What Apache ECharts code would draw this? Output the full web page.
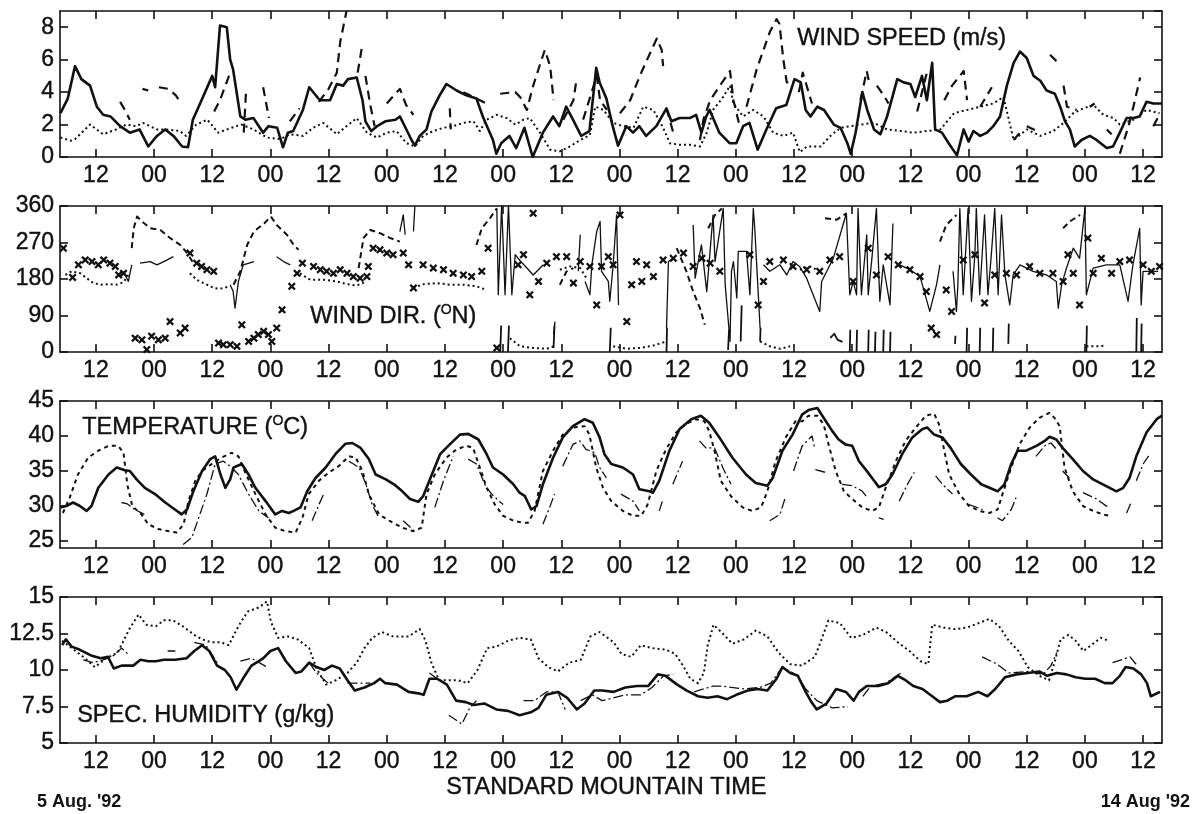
<!DOCTYPE html>
<html>
<head>
<meta charset="utf-8">
<script src="https://cdn.jsdelivr.net/npm/echarts@6/dist/echarts.min.js"></script>
<style>
html, body { margin: 0; background: #fff; }
#main { width: 1203px; height: 814px; }
</style>
</head>
<body>
<div id="main"></div>
<script>
// hours since 5 Aug 1992 00:00 MST
var tickHours = [12, 24, 36, 48, 60, 72, 84, 96, 108, 120, 132, 144, 156, 168, 180, 192, 204, 216, 228];
var xMin = 4.6, xMax = 231.9;

// ---- wind speed (m/s)
var speedSolid = [[4.7,2.7],[6.2,3.6],[7.7,5.6],[9,4.8],[10.8,4.4],[12.2,3.1],[13.5,2.6],[15,2.5],[17,1.9],[19,1.5],[21,1.7],[22.8,0.65],[24.6,1.3],[26.3,1.7],[28,1.3],[29.8,0.65],[31,0.6],[32,2.3],[33.5,3.3],[36,5.0],[36.6,4.3],[37.6,8.1],[39,8.0],[39.7,6.0],[40.3,5.4],[41.8,2.5],[42.8,2.3],[44.5,2.4],[46.5,1.5],[47.6,1.9],[49.4,1.8],[50.6,0.6],[51.6,1.5],[52.7,1.6],[54.7,2.9],[56,4.3],[58.2,3.5],[60.3,3.5],[61.7,4.5],[63,4.4],[64,4.8],[65.8,4.9],[67,3.5],[67.6,2.2],[68.8,1.6],[70,1.9],[71.7,2.2],[73.8,2.3],
  [74.7,2.5],[76.2,1.6],[77.1,1.05],[77.8,0.7],[78.8,1.3],[80.2,1.7],[81.2,2.8],[82.9,3.8],[84.3,4.5],[86.4,4.1],[88.4,3.8],[90.5,3.6],[91.8,2.5],[93.9,1.05],[94.6,0.2],[95.6,0.85],[97.3,1.3],[98.7,0.55],[100.4,1.8],[102.1,0],[104.2,1.5],[106.3,2.5],[107.6,1.9],[109,3.1],[110.4,2.3],[112.1,1.3],[113.8,1.6],[115.2,5.5],[115.9,4.6],[117.3,3.6],[118.6,1.9],[119.7,0.7],[121.4,1.9],[122.8,1.5],[124.1,1.9],[125.5,1.3],[127.6,1.9],[129.7,3.0],[130.7,2.2],[132.4,2.4],[134.5,2.4],[135.8,2.6],[136.9,1.5],[137.9,2.5],[138.6,2.9],[140.6,1.5],[142.7,0.85],[144.1,0.85],[145.5,1.9],[146.8,2.1],[148.5,0.45],[150.3,1.7],[152.3,3.0],[154.4,3.2],[156.1,4.8],
  [157.4,4.6],[158.4,2.9],[159.4,2.5],[160.8,3.1],[162.2,2.9],[164.2,2.0],[165.6,1.8],[167,0.85],[167.7,0.2],[168.7,1.5],[170.1,4.0],[171.1,2.9],[172.5,1.7],[173.8,1.4],[175.2,2.5],[177.3,4.8],[178.6,4.6],[180,4.5],[181,3.7],[182.4,5.0],[183.4,3.5],[184.5,5.8],[185.1,1.7],[186.5,1.5],[187.9,0.85],[189.6,0.1],[191,1.7],[192,0.95],[193,1.6],[194.4,1.3],[195.8,1.5],[197.1,1.9],[198.5,2.5],[199.9,4.4],[201.3,5.8],[202.6,6.5],[204,6.1],[205.4,5.0],[206.8,4.7],[208.1,4.1],[209.8,3.9],[210.9,3.1],[211.9,2.2],[212.9,1.7],[213.9,0.65],[215.3,1.05],[217,1.3],[218.4,1.05],[220.5,0.55],[221.8,0.65],[223.2,1.5],[224.6,2.4],[226,2.4],[227.3,2.5],[228.7,3.4],[230.1,3.3],[231.9,3.3]];
var speedDotted = [[4.7,1.2],[6.8,1.0],[7.7,1.1],[10.8,2.0],[13.5,1.4],[16.2,1.7],[18.3,2.0],[20.3,1.9],[21.7,2.1],[24.6,1.7],[26.5,1.7],[29.3,1.6],[30.6,1.3],[32.7,2.0],[35,2.3],[37.2,1.5],[40,1.8],[42,2.0],[44.5,1.7],[47.3,1.2],[50,1.1],[52,1.4],[54.7,1.3],[56.8,1.8],[58.9,2.1],[61.7,1.4],[63.7,1.9],[65.8,2.4],[67.9,1.5],[70,1.2],[72,1.5],[74,1.6],
  [76.1,0.85],[77.8,0.65],[79.5,1.3],[81.6,1.6],[83.7,1.8],[85.7,1.9],[87.8,2.1],[89.9,2.2],[91.2,1.6],[92.6,2.3],[94.7,2.6],[96.7,2.4],[98.5,2.0],[100.2,2.3],[101.5,2.4],[103.6,1.5],[105.7,0.45],[107.7,0.35],[109.8,0.65],[111.9,1.05],[113.9,1.35],[115,3.1],[116.7,2.9],[118.7,2.1],[120.8,1.9],[122.9,1.8],[124.9,3.1],[127,2.9],[129,1.8],[130.4,0.85],[132.5,0.75],[134.5,0.75],[136.6,0.65],[138,1.5],[139.3,2.9],[141.4,3.7],[142.8,4.4],[143.5,3.3],[145.5,2.5],[147.6,2.9],[149.7,2.5],[151.7,1.5],[153.8,1.3],[155.8,1.5],
  [157.2,0.3],[158.7,0.65],[161.5,0.65],[163.5,1.3],[165.6,1.8],[167.7,1.9],[169.7,2.0],[172.5,2.1],[175.2,1.7],[178,1.6],[180.7,1.5],[183.4,1.6],[186.2,1.7],[189,2.7],[191.7,2.9],[194.4,3.1],[197.1,3.3],[199.2,3.7],[201.3,1.05],[204,1.7],[206.8,1.3],[209.5,1.6],[211.6,2.1],[213.6,2.7],[215.7,3.0],[217.8,3.2],[219.8,2.6],[221.9,2.4],[223.2,2.0],[226,2.3],[228.7,2.9],[231.4,2.7]];
var speedDashed = [[17,3.4],[18,2.9],[19,2.3],null,[21.6,4.2],[22.8,4.1],null,[25,4.3],[27,4.2],[28.5,3.8],[29.6,3.3],null,[36.4,2.8],[37.6,3.5],[39.7,5.2],null,[42.5,1.5],[43,4.2],null,[46.5,4.3],[47.7,2.4],null,[52,2.2],[54,3.0],null,[58,3.4],[60,4.2],[61.7,5.2],[62.4,7.1],[63.7,9],null,[64.2,5.9],null,[66,5.2],[67,7.0],null,[67.6,5.0],[68.6,3.2],[69.5,1.9],null,[72,3.3],[73.5,3.8],
  [74.7,4.2],[76,3.2],[77.5,2.6],null,[85,3.0],[85.2,1.7],null,[87.8,4.0],[90.5,3.6],[92.6,3.3],null,[95.4,3.9],[98.5,4.0],[99.5,3.7],[100.9,2.9],[102.2,4.4],[103.6,5.7],[104.6,6.6],[105.7,5.6],[106.4,3.5],null,[108.4,2.3],[110.5,3.5],[111.2,4.9],null,[112.5,2.3],[115.3,5.0],[116,3.5],[117.4,2.9],null,[120.1,2.7],[122.2,3.5],[124.2,5.0],[126.3,6.4],[127.7,7.3],[128.7,6.6],[129,5.6],null,[129.7,3.0],[131.1,1.5],null,[136.6,1.05],[137.3,2.3],[138.7,3.5],[140.7,4.4],[142.8,5.3],[143.5,3.5],[144.8,1.9],null,[146.2,3.1],[148.3,5.4],[149.7,6.6],[151,7.7],[152.4,8.5],[153,8.2],[153.8,6.0],[154.5,4.6],[155.8,4.6],null,[157,4.0],[157.8,5.2],[159.7,3.3],null,
  [169.7,3.5],[171,5.3],[171.5,4.6],null,[173.1,4.4],[174.5,3.8],[175.5,3.3],null,[181.4,2.8],[183.4,5.2],[184.5,5.2],null,[187,3.5],[188.6,4.4],[191,5.3],[191.7,3.5],null,[194.4,3.1],[196.8,4.3],null,[201.3,1.05],[202.6,1.5],null,[204,1.9],[206.8,1.5],null,[208.8,6.3],[210.5,5.8],null,[211.6,4.4],[212.3,3.1],[214.3,2.9],null,[217,3.1],[218,3.3],null,[220.5,1.7],[221.5,1.4],null,[223.2,0.2],[225,1.9],[226,3.1],[227.4,4.9],null,[230.1,1.9],[231,2.4]];

// ---- wind direction (deg N)
var dirThin = [[17.7,199],[18.7,174],[19.4,215],null,[21.1,219],[23.2,223],[24.6,215],[26,223],[28,235],null,[39.7,166],[40.3,150],[40.7,108],[41.4,174],[42.4,215],[44.6,223],null,[49.3,235],[50.7,223],[52.1,215],null,
  [74.7,297],[75.4,338],[75.8,289],null,[77.5,297],[77.8,360],null,[94.7,354],[95,141],[95.7,363],[96.4,141],[97.1,363],[97.8,141],[98.5,240],[99.5,225],[100.9,207],[102.2,190],[104.3,215],null,[106.4,43],[106.7,75],null,[111.5,199],[111.9,289],null,
  [112.9,174],[113.9,141],[114.3,215],[115.3,297],[116,322],[116.3,199],[117.7,174],[118,125],[118.7,215],[119.4,338],[119.8,116],null,[129.7,59],[130.1,223],[131.1,231],null,
  [135.2,313],[135.6,182],[136.9,264],[137.3,223],[138,149],[139.3,338],[139.7,223],[141.4,354],[141.8,166],[142.8,26],[143.1,199],[143.5,223],[144.2,133],[144.5,248],[146.2,248],[146.9,141],[147.6,354],[147.9,305],[149,59],null,
  [149.7,215],[151,199],[153.1,215],[154.5,190],[155.8,223],[157.2,210],[158.6,182],[161.3,100],[161.7,174],[164.1,231],[166.8,342],[167.5,141],[168.2,174],[168.9,141],[169.2,354],[169.9,141],[171,289],[171.3,141],[172,223],[173,354],[173.7,125],[174.4,215],[175.8,116],[176.4,317],null,
  [177.8,215],[179.9,203],[182,186],[184,100],[185.4,166],[186.1,215],null,
  [188.8,199],[189.5,100],[189.8,166],[190.2,354],[190.9,141],[191.9,354],[192.6,125],[193.3,240],[193.6,354],[194.3,141],[195.3,338],[196,141],[196.7,240],[197.4,354],[198.1,141],[198.8,338],[199.5,190],[200.5,116],[201.2,190],[202.6,215],[205.3,199],[208.1,190],[210.1,174],[210.5,108],[211.2,166],[212.2,207],[213.6,256],[214.9,231],[216,354],[216.3,141],[217.7,207],[220.4,215],[223.2,215],[224.9,125],[225.9,215],[227.3,305],[227.6,116],[228,199],[231.1,199]];
var dirLow = [[95.4,0],[95.6,65],null,[97,0],[97.2,65],null,[106.4,10],[106.6,65],null,[118,0],[118.2,60],null,[129.7,0],[129.8,60],null,[142.4,5],[142.6,55],null,[145,26],[145.2,115],null,[149,26],[149.1,60],null,
  [163.5,35],[164.3,45],[165,30],[166,25],null,[167.5,0],[167.6,55],null,[168.9,0],[169,55],null,[171.3,0],[171.4,55],null,[172.7,0],[172.8,50],null,[174.4,0],[174.5,55],null,[175.8,0],[175.9,50],null,
  [189.2,20],[189.3,40],null,[191.6,0],[191.7,60],null,[194.3,0],[194.4,60],null,[197,0],[197.1,60],null,[200.2,20],[200.3,70],null,[216.3,0],[216.4,65],null,[226.6,0],[226.7,84],null,[227.6,0],[227.7,70]];
var dirDotted = [[5.7,190],[7,199],[8.8,194],[10.1,182],[11.5,170],[12.9,166],[14.9,167],[16.3,166],[17.7,172],[18.7,190],null,
  [31.4,194],[32.8,178],[34.2,170],[36.3,158],[37.6,156],[39.7,162],null,
  [54.1,194],[56.2,178],[59,178],[61.7,174],[63.8,167],[65.8,164],[67.5,172],null,
  [77.5,158],[79.5,167],[82.3,170],[85,166],[87.8,166],[90.5,162],[92.6,153],null,
  [97.4,34],[99.5,14],[102.2,10],[105,8],[106.4,14],null,[107.7,203],[109.8,211],[111.9,207],[113.2,182],null,
  [118.7,14],[121.5,8],[124.2,10],[127,16],[129.7,26],null,[149,26],[151,14],[153.1,8],[155.2,14],null,
  [157.2,203],[159.3,211],[161.3,199],null,[216.3,14],[218.4,14],[220.4,16]];
var dirDashed = [[19.4,256],[19.8,305],[20.5,334],[21.5,322],[23.2,305],[25.3,301],[27.3,281],[29.4,264],[30.8,244],[32.1,219],null,
  [40.4,166],[41.8,199],[43.2,264],[44.6,297],[46.7,317],[48.1,334],[49.3,313],[51.4,289],[52.8,264],[53.8,252],null,
  [66.2,207],[67.2,281],[68.6,301],[70.6,293],[72.7,281],[74.7,272],null,
  [90.5,264],[91.6,305],[93.3,330],[94.7,354],null,[107.7,166],[109.1,199],[110.5,207],null,
  [131.8,256],[133.8,199],[135.2,149],[136.6,108],[137.6,67],null,[138.3,305],[139.7,338],[141.1,354],null,
  [162.4,330],[164.8,326],[166.8,342],null,[186.1,272],[187.4,313],[189.5,338],null,[211.5,305],[212.9,322],[215,338]];
var dirMarks = [[5.3,256],[7.2,184],[8.4,215],[9.8,227],[11.2,223],[12.5,215],[13.6,227],[14.9,219],[16,211],[16.7,190],[17.7,194],
  [20.1,34],[21.5,30],[22.5,6],[23.5,39],[24.9,30],[26.3,34],[27.3,75],[29.4,47],[30.4,59],
  [31.4,244],[32.8,219],[33.8,211],[34.9,203],[36.3,199],[37.3,22],[38.3,18],[39.7,18],[41.1,14],[42.1,67],[43.5,26],[44.6,34],[45.5,43],[46.6,51],[47.6,43],[48.3,26],[49.3,59],[50.4,104],
  [52.4,162],[53.5,194],[54.6,219],[56.9,211],[58.3,203],[59.6,199],[61,194],[62.4,203],[63.8,194],[65.1,186],[66.5,182],[67.9,186],[68.2,211],[69.2,256],[70.6,252],[72,244],[73.3,240],
  [75.4,244],[76.5,215],[77.5,158],[79.5,215],[81.6,207],[83.7,203],[85.7,194],[87.8,190],[89.5,186],[91.6,199],[92.9,256],[94.7,10],[99.1,215],[100.2,240],[101.5,141],[102.2,342],[103.3,174],[105,219],[107,235],[109.1,235],[110.5,170],[111.9,223],[113.9,211],[115.3,116],[116.3,211],[117.7,235],[118.7,215],[120.1,338],[121.5,75],[122.5,166],[123.5,223],[124.6,174],[125.6,215],[127,186],[129,227],[131.1,231],[133.2,244],[135.2,211],[137,231],[138.7,219],[140.7,199],[146.9,240],[148.6,116],[149.7,174],[151,223],[153.8,227],[155.8,211],
  [158.6,203],[161.3,199],[163.4,227],[165.4,235],[168.2,174],[171.3,256],[173,190],[175.4,235],[177.5,215],[179.9,203],[182,186],[183.3,149],[184.3,59],[185.4,43],[187.4,153],[188.5,100],[190.9,227],[193.3,240],[195.3,121],[197.4,190],[199.8,194],[201.9,190],[204.6,211],[206.7,194],[209.4,194],[211.5,174],[212.5,240],[213.6,194],[214.9,116],[216.6,281],[217.7,194],[219.4,231],[221.5,194],[223.2,223],[225.2,227],[228,215],[229.7,199],[231.4,211]];

// ---- temperature (deg C)
var tempSolid = [[4.7,29.8],[5.9,30],[7.3,30.5],[8.7,30],[10.1,29.3],[11.1,30],[12.5,32.6],[14.6,34.5],[16.3,35.5],[18,35.1],[19,35],[20.4,33.8],[22.1,32.6],[24.2,31.7],[26.3,30.5],[28.3,29.5],[29.7,28.8],[30.8,29.5],[32.1,32.1],[33.9,35],[35.6,36.7],[36.6,37.1],[37.7,34.5],[38.7,32.6],[39.7,33.8],[40.4,35.5],[42.1,36],[43.5,34.5],[44.9,32.6],[47,30.7],[49,28.8],[50.4,29.3],[51.8,29],[52.8,29.3],[54.2,29.8],[55.6,32.1],[57.3,34],[59.4,35.5],[61.4,37.4],[63.5,38.9],[64.9,39],[66.6,38.3],[68.3,36.7],[69.7,34.5],[71.8,33.8],[73.5,33.1],[75.2,32.1],
  [76.8,31],[78.5,30.6],[79.5,31.4],[81.3,34.5],[83,37.4],[85,38.8],[87.1,40.2],[88.8,40.3],[90.9,39.5],[92.6,37.4],[93.9,35.5],[96,34.5],[98.1,33.1],[99.4,31.9],[100.5,31.4],[101.8,29.5],[102.9,30],[104.2,33.1],[106.3,36.9],[108.3,39.8],[110.4,41.4],[112.8,42.4],[114.5,41.9],[115.9,39.8],[116.9,37.4],[118.3,36],[120.7,35.5],[122.8,34.5],[124.1,32.4],[126.2,32.1],[126.9,31.9],[128.2,33.6],[130.3,37.9],[132.4,41],[134.8,42.4],[136.8,42.9],[138.5,41.9],[140.6,39.8],[143.3,36.9],[146.1,34.5],[148.1,33.3],[150.5,32.9],[151.6,34],[153.6,37.9],[155.7,40.2],[157.7,43.1],
  [159,43.7],[160.8,44],[162.1,42.6],[163.9,40.7],[165.2,39.5],[166.6,38.8],[168,38.6],[169.4,36.4],[170.8,35.2],[172.1,34],[173.5,32.7],[174.9,33.1],[176.3,34.5],[178.3,37.4],[180.4,39.8],[182.5,41],[183.5,41.2],[184.9,40.2],[186.6,39.8],[188.3,38.3],[190.4,36],[192.5,34.5],[194.6,33.1],[196.3,32.6],[198,32.1],[199.4,33.1],[200.8,36],[202.1,37.9],[203.9,37.9],[206,38.6],[207.7,39.3],[208.7,39.9],[210.1,39.5],[211.4,38.3],[213.5,36.7],[215.6,35],[217.7,33.8],[219.7,33.1],[221.1,32.6],[222.5,32.1],[223.9,32.6],[225.2,34],[226.6,37.1],[228.7,40.5],[230.8,42.4],[231.9,42.9]];
var tempDotted = [[5.2,29],[6.6,31.2],[8.3,34.5],[10.4,36.9],[12.5,37.9],[14.6,38.6],[16.6,38.6],[17.7,37.6],[18.5,33],[19.5,30],[21.4,28.8],[22.8,27.4],[24.9,26.7],[27,26.4],[28.7,26.2],[30.1,27.4],[31.1,30.7],[32.5,33.6],[33.9,35],[35.9,36],[37.9,36.9],[40,37.6],[41.4,37.1],[42.8,34.8],[44.9,31.7],[47,28.8],[49,26.9],[51.1,26.4],[53.2,26.2],[54.6,28.3],[55.9,31.7],[58,33.6],[60.1,34.8],[62.1,35.7],[64.2,37.1],[65.6,36.9],[67,35],[68.3,31.7],[70.4,28.8],[72.5,27.9],[75.2,26.9],
  [77.5,26.4],[79.2,26.9],[80.2,31.7],[81.9,34.5],[84.3,36.9],[86.4,38.1],[88.5,38.6],[89.8,38.3],[91.2,35.5],[92.6,32.6],[94.3,30.2],[96,28.6],[98.1,27.9],[100.1,27.6],[101.1,27.6],[102.5,29.3],[104.2,35],[106.3,37.9],[108.3,40.2],[110.4,41.2],[112.8,41.4],[113.8,40.2],[115.2,35.5],[116.6,32.6],[118.3,30.7],[120.7,29.3],[122.8,28.6],[124.5,28.6],[125.8,30.2],[127.6,35],[129.6,38.1],[131.7,40.5],[133.7,41.7],[135.8,42.4],[137.5,42.1],[138.5,40.7],[139.6,37.9],[140.9,33.6],[143,31.4],[145.4,29.8],[147.4,29.3],[149.2,29.8],[150.5,32.1],[152.2,36.4],[154.3,39.8],[156.3,42.1],
  [157.7,42.1],[159,42.9],[160.8,42.9],[162.1,41.7],[163.2,38.6],[164.6,35],[166.3,32.1],[168,31],[170.1,29.8],[172.1,29.3],[173.5,29.8],[174.9,32.6],[177,36.4],[179,39.3],[181.1,41.2],[183.2,42.9],[184.9,43.2],[185.9,41.7],[187,37.9],[188,34.5],[190.1,31.7],[192.1,30],[194.2,29.3],[196.3,29],[198,29.5],[199,31.7],[200.8,35.5],[202.5,38.8],[204.6,41.2],[206.6,42.6],[208.7,43.3],[209.7,42.6],[210.8,41.4],[211.8,35.5],[213.5,32.1],[215.6,30],[217.7,29.3],[219.7,28.8],[221.1,28.6]];
var tempThin = [[17.3,30.5],[18.5,30.3],[20,29.5],[22,28.8],null,[30,24.5],[31.8,25.5],[33.2,28.3],[34.9,31.7],[36.6,36],[38.3,36.4],[40,35.5],[41.4,34.5],[43.5,31.7],[45.6,29.3],[47.6,28.3],null,[56.6,27.9],[58,30.2],[59,31.7],null,[64.2,36.4],[66.3,35.5],[67.7,33.1],[69,30.2],[70.4,28.3],null,[75.4,27.9],[78,26.2],null,
  [81.9,29.8],[83.7,33.6],[85.7,37.1],null,[88.8,36.7],[90.5,36],[92.2,33.1],[93.6,31.7],[96,30.2],null,[104.2,27.4],[105.6,29.8],[106.6,31.7],null,[108.3,35.7],[110.4,38.8],[111.8,39.3],[113.1,38.1],[114.9,37.6],[115.9,35.5],[117.3,34],null,[120.3,31.7],[122.8,30.7],[124.1,29.3],null,[128.2,29.3],[129,31],null,[131,33.1],[133,36.4],null,[136.5,39.3],[137.8,38.3],[139.6,38.3],[141.3,35.5],[143,33.1],null,[151,27.9],[153.1,28.8],[154.2,31.2],null,
  [155.9,35],[157.7,38.6],[159.7,40],[160.2,38.5],null,[160.4,35.2],[162.5,34.8],null,[165.9,33.1],[168,32.9],[170.1,32.1],[171.1,31.2],null,[173.5,28.3],[174.5,28.1],null,[177.7,30.7],[179.4,33.1],[180.8,34.8],null,[185.2,34.3],[186.6,33.1],[188.7,31.7],null,[192.1,30.2],[194.9,29.5],null,[198,28.3],[199,27.9],[200.8,29.5],[201.8,31.2],null,[205.9,37.1],[208,38.8],[209,39],[210.4,37.9],null,[211.4,35],[212.8,34],null,[215.6,31.9],[218.4,31],[220.8,29.8],null,[224.6,29],[225.6,30.6],null,[226.6,33.6],[228,36],[229.4,37.4]];

// ---- specific humidity (g/kg)
var humSolid = [[5.05,11.7],[5.8,12.1],[7,11.6],[8.6,11.4],[11,11.0],[13,10.8],[14.5,10.9],[15.7,10.1],[17.3,10.3],[19.7,10.3],[21.2,10.7],[22.8,10.6],[24.4,10.6],[26,10.7],[28.3,10.7],[30.7,10.8],[32.3,11.3],[33.9,11.7],[35.4,11.3],[37,10.3],[38.6,10.0],[39.8,9.5],[41,8.65],[42.5,9.5],[44.1,10.3],[46.5,10.8],[48,11.3],[49.6,11.5],[51.2,10.6],[53.2,9.8],[54.4,9.9],[56,10.5],[57.5,10.2],[59.1,10.0],[60.7,10.3],[62.3,10.1],[63.9,9.3],[65.4,8.6],[67.4,8.8],[69.4,9.1],[70.6,9.4],[71.7,9.1],[74.1,9.0],[76.5,8.5],[78.5,8.4],[79.6,8.3],[80.8,9.4],[82.4,9.4],[84.4,9.0],[86.3,7.9],[88.3,7.8],[89.9,7.6],[92.2,7.7],[94.6,7.3],[97,7.2],[99.4,6.9],[101.7,7.1],[103.3,7.4],[104.9,8.3],[107.3,8.5],[109.2,8.1],[111.2,7.3],[112.8,7.7],[114.8,8.6],
  [116.4,8.6],[118.8,8.5],[121.2,8.8],[123.6,8.9],[125.9,8.9],[127.9,9.7],[129.5,9.6],[131.9,9.0],[133.8,8.6],[136.2,8.2],[138.2,8.1],[140.2,8.2],[142.2,8.0],[144.1,8.3],[146.5,8.6],[148.5,8.7],[150.5,8.6],[152.4,9.4],[153.6,10.2],[155.2,9.8],[156.8,9.6],[158.4,8.5],[159.6,7.8],[160.7,7.3],[162.7,7.7],[164.7,8.7],[166.7,8.5],[168.3,7.9],[169.4,8.5],[171,8.9],[173.4,8.9],[175.4,9.1],[177.4,9.6],[179,9.3],[180.6,8.9],[182.5,8.7],[184.5,8.2],[186.1,7.8],[187.6,7.9],[189.2,8.2],[191.6,8.2],[194,8.5],[195.9,8.2],[197.5,8.7],[199.5,9.5],[201.9,9.7],[204.2,9.8],[206.6,9.9],[208.2,9.6],[210.2,9.8],[212.2,9.7],[214.1,9.5],[216.1,9.4],[218.1,9.4],[220.1,9.1],[221.7,9.1],[223.2,9.6],[224.4,10.2],[226,10.1],[227.6,9.7],[228.8,9.1],[229.6,8.2],[231.5,8.5]];
var humDotted = [[5,12.0],[7.4,11.4],[9.4,10.9],[11.8,10.2],[14.1,10.8],[16.5,11.2],[18.9,12.8],[20.8,13.8],[22.4,13.1],[24.4,13.0],[26,13.4],[27.9,13.4],[29.9,13.0],[32.3,12.4],[33.9,12.1],[35.8,11.9],[37.8,11.9],[39.4,11.7],[41.4,13.0],[43.3,14.0],[45.7,14.3],[47.3,14.7],[48.1,13.3],[49.6,12.2],[51.6,12.3],[53.6,12.1],[56,11.5],[57.5,10.1],[59.5,9.0],[61.5,9.3],[63.9,9.8],[65.8,10.5],[67.4,11.5],[69,12.2],[71,12.6],[73.3,12.3],[76.5,12.3],[78.8,12.8],[80,12.0],[81.2,10.5],[82.8,9.3],[84.4,9.3],[86.7,9.3],[88.7,9.1],[90.7,10.0],[92.7,11.5],[94.6,11.6],[97,12.0],[99.4,12.2],[101.7,12.1],[103.3,10.8],[105.3,10.2],[107.3,9.9],[109.6,10.5],[112,10.7],[114,12.3],[115.9,12.6],
  [118.8,11.9],[120.4,11.1],[122.4,10.9],[124.4,11.7],[126.7,11.5],[129.5,11.4],[131.5,11.1],[133.1,10.3],[134.6,9.4],[136.2,9.1],[137.4,9.8],[138.2,11.7],[139.4,13.1],[141,12.6],[143.3,11.8],[145.7,12.1],[148.1,12.7],[150.5,12.3],[152.8,11.2],[155.2,10.4],[157.6,10.3],[160.3,10.9],[161.9,12.3],[163.1,13.4],[165.5,13.2],[167.8,12.2],[170.2,12.4],[173,12.9],[175,12.6],[177.4,11.9],[179.8,11.3],[182.1,10.6],[183.7,10.4],[184.5,13.1],[186.9,12.9],[189.2,12.8],[191.6,12.9],[194,13.2],[196.3,13.5],[198.3,13.0],[200.3,12.0],[202.3,11.3],[204.2,10.2],[206.6,9.6],[208.6,9.3],[209.8,10.6],[211,12.1],[212.6,12.4],[214.1,12.0],[215.7,11.3],[217.3,11.7],[219.3,12.2],[220.9,12.0]];
var humThin = [[9.4,10.7],[11.4,10.5],[13.5,10.7],[15.7,11.0],[17.3,11.5],[18.9,11.0],null,[26.8,11.3],[28.4,11.3],null,[32.3,11.9],[34.7,11.7],[37,10.5],null,[41.8,10.6],[44.1,10.8],[47.3,10.2],null,[56,10.5],[57.5,9.8],[59.9,9.1],null,[63.9,9.1],[66,9.1],[68.6,9.1],null,[80.8,9.8],[82.4,9.4],null,[84.8,6.9],[87.5,6.3],[89.1,7.4],[90.5,7.9],null,[94.6,8.6],null,[100.2,7.9],[102.5,7.9],[104.9,8.5],[107.3,8.5],[108.8,7.3],null,[112,7.9],[114.4,8.3],[116.4,7.9],
  [121.2,8.3],[124.4,8.3],[126.7,8.8],[129.1,9.6],[131.1,9.7],null,[135.4,8.5],[139.3,8.9],[141,8.9],[145.7,8.7],[148.9,8.8],[151.2,9.1],[153.6,10.2],[156.8,9.6],[158.4,8.7],[160.7,7.9],[163.9,7.4],[167.1,7.5],null,[170.2,8.2],[171.8,8.9],[174.9,9.1],[178.1,9.8],null,[190.8,11.8],null,[194.8,10.9],[197.9,10.4],[200.3,9.8],[204.2,9.9],[207.4,9.7],[209,10.3],[210.2,11.2],null,[215.7,10.9],null,[221.7,10.5],[225.3,10.9],[226.8,10.3]];

var yLabelsTemp = [25, 30, 35, 40, 45];

var myChart = echarts.init(document.getElementById('main'));
var ink = '#111';
var fontFam = 'Liberation Sans, Arial, sans-serif';

var tops = [11, 206, 401, 597];
var heights = [146, 146, 147, 146];
var grids = [], xAxes = [], yAxes = [];
var yCfg = [
	{min: 0, max: 9, interval: 2},
	{min: 0, max: 360, interval: 90},
	{min: 24, max: 45, custom: yLabelsTemp},
	{min: 5, max: 15, interval: 2.5}
];
var labelStyle = {color: ink, fontSize: 23, fontFamily: fontFam, textBorderColor: ink, textBorderWidth: 0.4};
for (var i = 0; i < 4; i++) {
	grids.push({left: 60, top: tops[i], width: 1102, height: heights[i]});
	xAxes.push({
		gridIndex: i, type: 'value', min: xMin, max: xMax, position: 'bottom',
		axisLine: {show: true, onZero: false, lineStyle: {color: ink, width: 1.6}},
		axisTick: {inside: true, length: 8, customValues: tickHours, lineStyle: {color: ink, width: 1.6}},
		axisLabel: Object.assign({customValues: tickHours, margin: 7,
			formatter: function(v) { return v % 24 === 0 ? '00' : '12'; }}, labelStyle),
		splitLine: {show: false}
	});
	xAxes.push({
		gridIndex: i, type: 'value', min: xMin, max: xMax, position: 'top',
		axisLine: {show: true, onZero: false, lineStyle: {color: ink, width: 1.6}},
		axisTick: {inside: true, length: 8, customValues: tickHours, lineStyle: {color: ink, width: 1.6}},
		axisLabel: {show: false},
		splitLine: {show: false}
	});
	var c = yCfg[i];
	var left = {
		gridIndex: i, type: 'value', min: c.min, max: c.max, position: 'left',
		axisLine: {show: true, onZero: false, lineStyle: {color: ink, width: 1.6}},
		axisTick: {inside: true, length: 8, lineStyle: {color: ink, width: 1.6}},
		axisLabel: Object.assign({margin: 6}, labelStyle),
		splitLine: {show: false}
	};
	var right = {
		gridIndex: i, type: 'value', min: c.min, max: c.max, position: 'right',
		axisLine: {show: true, onZero: false, lineStyle: {color: ink, width: 1.6}},
		axisTick: {inside: true, length: 8, lineStyle: {color: ink, width: 1.6}},
		axisLabel: {show: false},
		splitLine: {show: false}
	};
	if (c.custom) {
		left.axisLabel.customValues = c.custom;
		left.axisTick.customValues = c.custom;
		right.axisTick.customValues = c.custom;
	} else {
		left.interval = c.interval;
		right.interval = c.interval;
	}
	yAxes.push(left, right);
}

function line(panel, data, width, type) {
	return {
		type: 'line', xAxisIndex: panel * 2, yAxisIndex: panel * 2, data: data,
		showSymbol: false, symbol: 'none', connectNulls: false, silent: true, animation: false,
		lineStyle: {color: ink, width: width, type: type, cap: 'butt', join: 'round'}
	};
}

var dotType = [2, 3];
var longDash = [9, 6];
var thinDash = [10, 3, 2, 3];
var titleFont = '23.5px ' + fontFam;
var supRich = {
	a: {fontSize: 23.5, fontFamily: fontFam, fill: ink, lineHeight: 26},
	s: {fontSize: 14, fontFamily: fontFam, fill: ink, verticalAlign: 'top', lineHeight: 26}
};

option = {
	backgroundColor: '#fff',
	animation: false,
	grid: grids,
	xAxis: xAxes,
	yAxis: yAxes,
	series: [
		line(0, speedDotted, 2, dotType),
		line(0, speedDashed, 2.2, longDash),
		line(0, speedSolid, 2.6, 'solid'),
		line(1, dirDotted, 2, dotType),
		line(1, dirDashed, 2, [6, 4]),
		line(1, dirThin, 1.3, 'solid'),
		line(1, dirLow, 1.8, 'solid'),
		{
			type: 'scatter', xAxisIndex: 2, yAxisIndex: 2, data: dirMarks, silent: true,
			symbol: 'path://M0,2L2,0L5,3L8,0L10,2L7,5L10,8L8,10L5,7L2,10L0,8L3,5Z',
			symbolSize: 8, itemStyle: {color: ink, opacity: 1}
		},
		line(2, tempDotted, 2, [4, 4]),
		line(2, tempThin, 1.3, thinDash),
		line(2, tempSolid, 2.6, 'solid'),
		line(3, humDotted, 2, dotType),
		line(3, humThin, 1.3, thinDash),
		line(3, humSolid, 2.6, 'solid')
	],
	graphic: [
		{type: 'text', left: 797, top: 26, style: {text: 'WIND SPEED (m/s)', fill: ink, font: titleFont, stroke: ink, lineWidth: 0.4}},
		{type: 'text', left: 310, top: 303, style: {text: '{a|WIND DIR. (}{s|O}{a|N)}', fill: ink, stroke: ink, lineWidth: 0.4, rich: supRich}},
		{type: 'text', left: 82, top: 414, style: {text: '{a|TEMPERATURE (}{s|O}{a|C)}', fill: ink, stroke: ink, lineWidth: 0.4, rich: supRich}},
		{type: 'text', left: 77, top: 703, style: {text: 'SPEC. HUMIDITY (g/kg)', fill: ink, font: titleFont, stroke: ink, lineWidth: 0.4}},
		{type: 'text', left: 446, top: 775, style: {text: 'STANDARD MOUNTAIN TIME', fill: ink, font: titleFont, stroke: ink, lineWidth: 0.4}},
		{type: 'text', left: 37, top: 793, style: {text: "5 Aug. '92", fill: ink, font: 'bold 18px ' + fontFam}},
		{type: 'text', right: 13, top: 793, style: {text: "14 Aug '92", fill: ink, font: 'bold 18px ' + fontFam}}
	]
};
myChart.setOption(option);
</script>
</body>
</html>
